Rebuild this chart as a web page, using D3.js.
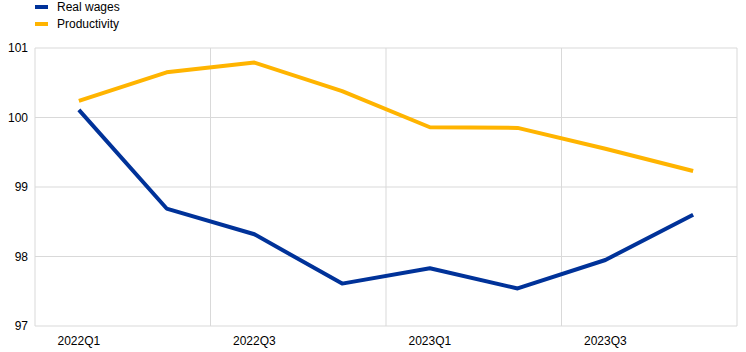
<!DOCTYPE html>
<html><head><meta charset="utf-8">
<script src="https://cdn.jsdelivr.net/npm/d3@7"></script>
<style>body{margin:0;background:#fff}svg{display:block;font-family:"Liberation Sans",Arial,sans-serif}</style>
</head><body><svg id="c" width="746" height="352"></svg>
<script>
const quarters = ["2022Q1","2022Q2","2022Q3","2022Q4","2023Q1","2023Q2","2023Q3","2023Q4"];
const realWages = [100.11, 98.69, 98.32, 97.61, 97.83, 97.54, 97.95, 98.60];
const productivity = [100.24, 100.65, 100.79, 100.38, 99.86, 99.85, 99.55, 99.23];
const yTicks = [97, 98, 99, 100, 101];
const xTickLabels = ["2022Q1","2022Q3","2023Q1","2023Q3"];
const seriesNames = ["Real wages","Productivity"];
const colors = ["#003299","#FFB400"];

const svg = d3.select("#c");
const L = 35, R = 737, T = 48, B = 326;
const x = d3.scaleBand().domain(quarters).range([L, R]);
const y = d3.scaleLinear().domain([97, 101]).range([B, T]);
const grid = "#d9d9d9";

// horizontal gridlines
svg.append("g").selectAll("line").data(yTicks).join("line")
  .attr("x1", L).attr("x2", R).attr("y1", d => y(d)).attr("y2", d => y(d))
  .attr("stroke", grid).attr("stroke-width", 1);
// vertical gridlines every 2 quarters
const vx = [0, 2, 4, 6, 8].map(i => L + x.step() * i);
svg.append("g").selectAll("line").data(vx).join("line")
  .attr("x1", d => d).attr("x2", d => d).attr("y1", T).attr("y2", B)
  .attr("stroke", grid).attr("stroke-width", 1);

// y labels
svg.append("g").selectAll("text").data(yTicks).join("text")
  .attr("x", 28).attr("y", d => y(d) + 4).attr("text-anchor", "end")
  .attr("font-size", 12).attr("fill", "#000").text(d => d);
// x labels
svg.append("g").selectAll("text").data(xTickLabels).join("text")
  .attr("x", d => x(d) + x.bandwidth() / 2).attr("y", 345).attr("text-anchor", "middle")
  .attr("font-size", 12).attr("fill", "#000").text(d => d);

const line = d3.line().x((d, i) => x(quarters[i]) + x.bandwidth() / 2).y(d => y(d));
[realWages, productivity].forEach((s, k) => {
  svg.append("path").attr("d", line(s)).attr("fill", "none")
    .attr("stroke", colors[k]).attr("stroke-width", 4).attr("stroke-linejoin", "round");
});

// legend
seriesNames.forEach((n, k) => {
  const yy = 7 + k * 17;
  svg.append("rect").attr("x", 35).attr("y", yy - 2).attr("width", 13).attr("height", 4).attr("fill", colors[k]);
  svg.append("text").attr("x", 57).attr("y", yy + 4).attr("font-size", 12).attr("fill", "#000").text(n);
});
</script></body></html>
